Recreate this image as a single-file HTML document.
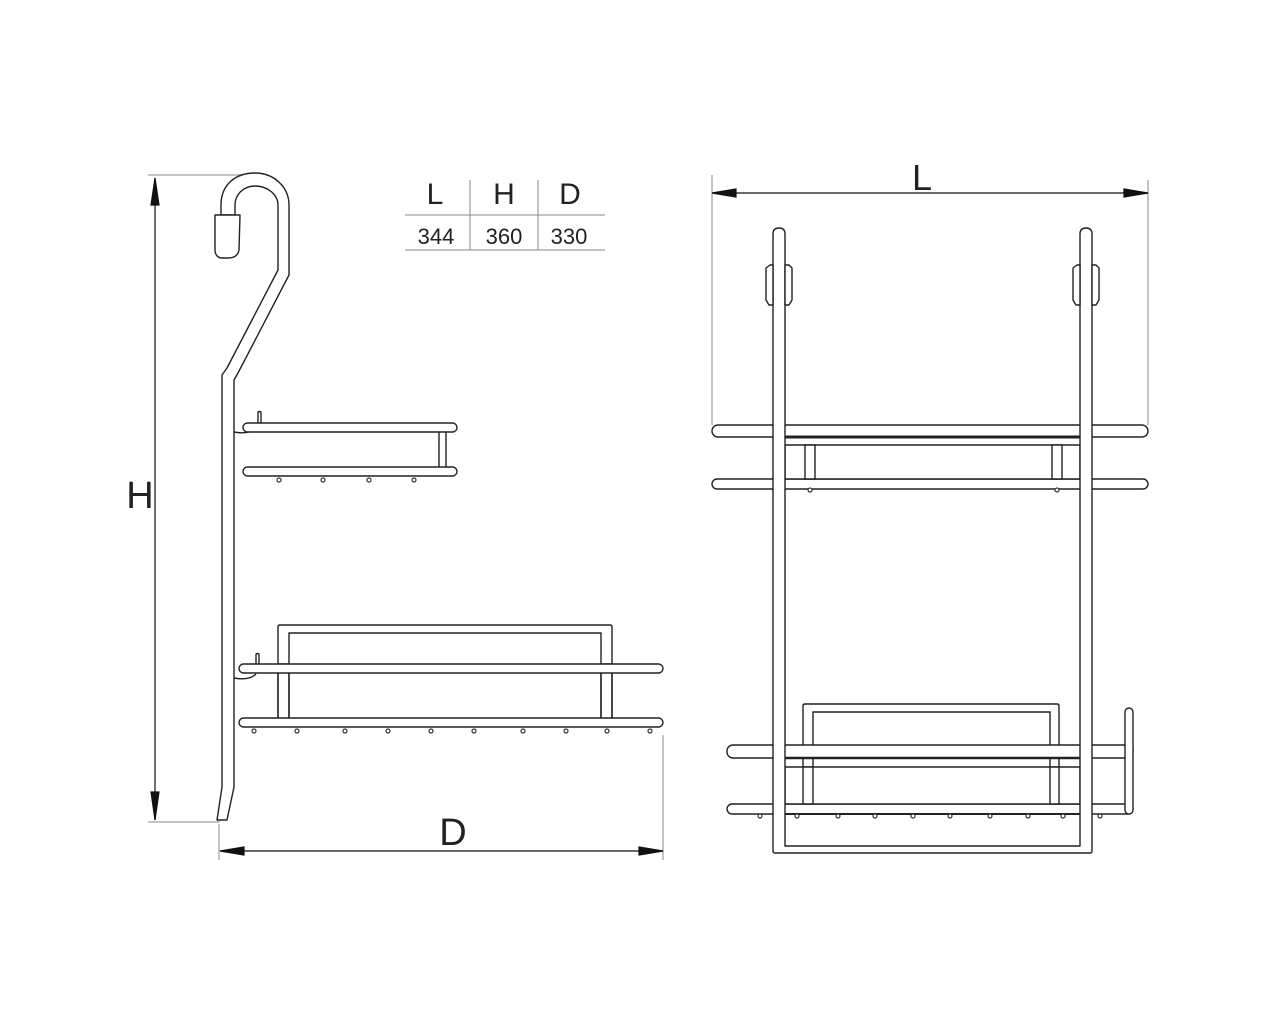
<!DOCTYPE html>
<html><head><style>
html,body{margin:0;padding:0;background:#fff;}
svg{display:block;}
text{font-family:"Liberation Sans",sans-serif;fill:#222;}
</style></head><body>
<svg width="1280" height="1024" viewBox="0 0 1280 1024" xmlns="http://www.w3.org/2000/svg">
<g stroke="#888" stroke-width="1" fill="none">
<line x1="148" y1="175" x2="250" y2="175"/>
<line x1="148" y1="822" x2="220" y2="822"/>
<line x1="219" y1="824" x2="219" y2="860"/>
<line x1="663" y1="735" x2="663" y2="860"/>
<line x1="712" y1="175" x2="712" y2="425"/>
<line x1="1148" y1="180" x2="1148" y2="425"/>
<line x1="405" y1="215" x2="605" y2="215"/>
<line x1="405" y1="250" x2="605" y2="250"/>
<line x1="470" y1="180" x2="470" y2="250"/>
<line x1="538" y1="180" x2="538" y2="250"/>
</g>
<g stroke="#111" stroke-width="1.2" fill="none">
<line x1="155" y1="178" x2="155" y2="820"/>
<path d="M155,178 L151,205 L159,205z" fill="#111"/>
<path d="M155,820 L151,792 L159,792z" fill="#111"/>
<line x1="220" y1="851" x2="663" y2="851"/>
<path d="M220,851 L244,847 L244,855z" fill="#111"/>
<path d="M663,851 L639,847 L639,855z" fill="#111"/>
<line x1="712" y1="193" x2="1148" y2="193"/>
<path d="M712,193 L736,189 L736,197z" fill="#111"/>
<path d="M1148,193 L1124,189 L1124,197z" fill="#111"/>
</g>
<text x="140" y="508" font-size="38" text-anchor="middle">H</text>
<text x="453" y="845" font-size="38" text-anchor="middle">D</text>
<text x="922" y="190" font-size="36" text-anchor="middle">L</text>
<text x="435" y="204" font-size="30" text-anchor="middle">L</text>
<text x="504" y="204" font-size="30" text-anchor="middle">H</text>
<text x="570" y="204" font-size="30" text-anchor="middle">D</text>
<text x="436" y="244" font-size="22" text-anchor="middle">344</text>
<text x="504" y="244" font-size="22" text-anchor="middle">360</text>
<text x="569" y="244" font-size="22" text-anchor="middle">330</text>

<g stroke="#222" stroke-width="1.4" fill="#fff" stroke-linejoin="round">
<path d="M221,215 L221,205 C221,185 235,173 255,173 C275,173 289,188 289,205 L289,275 L238,373 L234,380 L234,787 L227,820 L217,820 L222,787 L222,375 L227,368 L278,270 L278,205 C278,195 268,186 255,186 C243,186 235,195 235,205 L235,215 Z"/>
<path d="M215,215 L240,215 L239,250 C238,256 234,258 228,258 L222,258 C218,258 215,255 215,250 Z"/>
<path d="M258,423 L258,413 C258,411 261,411 261,413 L261,423" fill="none"/>
<path d="M234,432 C245,434 252,432 256,428" fill="none"/>
<rect x="439" y="428" width="7" height="44"/>
<rect x="243" y="423" width="214" height="9" rx="4.5"/>
<rect x="243" y="467" width="214" height="9" rx="4.5"/>
<path d="M278,722 L278,627 Q278,625 280,625 L610,625 Q612,625 612,627 L612,722 L601,722 L601,633 L289,633 L289,722 Z"/>
<path d="M256,664 L256,655 C256,653 259,653 259,655 L259,664" fill="none"/>
<path d="M234,678 C245,680 252,678 256,674" fill="none"/>
<rect x="278" y="664" width="11" height="58" fill="none"/>
<rect x="601" y="664" width="11" height="58" fill="none"/>
<rect x="239" y="664" width="424" height="9" rx="4.5"/>
<rect x="239" y="718" width="424" height="9" rx="4.5"/>

<!-- right view -->
<rect x="712" y="425" width="436" height="12" rx="6"/>
<rect x="712" y="479" width="436" height="10" rx="5"/>
<rect x="785" y="445" width="295" height="34"/>
<rect x="805" y="445" width="10" height="34"/>
<rect x="1052" y="445" width="10" height="34"/>
<line x1="785" y1="437" x2="1080" y2="437" stroke-width="3"/>
<path d="M803,804 L803,706 Q803,704 805,704 L1057,704 Q1059,704 1059,706 L1059,804 L1050,804 L1050,712 L813,712 L813,804 Z"/>
<rect x="727" y="745" width="406" height="13" rx="6"/>
<rect x="727" y="804" width="406" height="10" rx="5"/>
<rect x="785" y="767" width="295" height="37"/>
<rect x="803" y="767" width="10" height="37"/>
<rect x="1050" y="767" width="9" height="37"/>
<line x1="785" y1="758" x2="1080" y2="758" stroke-width="2.5"/>
<line x1="785" y1="814" x2="1080" y2="814" stroke-width="2"/>
<rect x="1125" y="708" width="8" height="106" rx="4"/>
<!-- U-shaped post frame on top of bars -->
<path d="M773,234 Q773,228 779,228 Q785,228 785,234 L785,846 L1080,846 L1080,234 Q1080,228 1086,228 Q1092,228 1092,234 L1092,851 Q1092,853 1090,853 L775,853 Q773,853 773,851 Z"/>
<path d="M766,268 L770,265 L773,265 L773,305 L769,305 L766,300 Z"/>
<path d="M785,265 L789,265 L792,268 L792,300 L789,305 L785,305 Z"/>
<path d="M1073,268 L1077,265 L1080,265 L1080,305 L1076,305 L1073,300 Z"/>
<path d="M1092,265 L1096,265 L1099,268 L1099,300 L1096,305 L1092,305 Z"/>
</g>
<g fill="#fff" stroke="#333" stroke-width="1.2">
<circle cx="279" cy="480" r="2"/><circle cx="323" cy="480" r="2"/><circle cx="369" cy="480" r="2"/><circle cx="414" cy="480" r="2"/>
<circle cx="254" cy="731" r="2"/><circle cx="297" cy="731" r="2"/><circle cx="345" cy="731" r="2"/><circle cx="388" cy="731" r="2"/><circle cx="431" cy="731" r="2"/><circle cx="474" cy="731" r="2"/><circle cx="523" cy="731" r="2"/><circle cx="566" cy="731" r="2"/><circle cx="607" cy="731" r="2"/><circle cx="650" cy="731" r="2"/>
<circle cx="760" cy="816" r="2"/><circle cx="797" cy="816" r="2"/><circle cx="838" cy="816" r="2"/><circle cx="875" cy="816" r="2"/><circle cx="913" cy="816" r="2"/><circle cx="950" cy="816" r="2"/><circle cx="990" cy="816" r="2"/><circle cx="1028" cy="816" r="2"/><circle cx="1063" cy="816" r="2"/><circle cx="1100" cy="816" r="2"/>
<circle cx="810" cy="490" r="2"/><circle cx="1057" cy="490" r="2"/>
</g>
</svg>
</body></html>
